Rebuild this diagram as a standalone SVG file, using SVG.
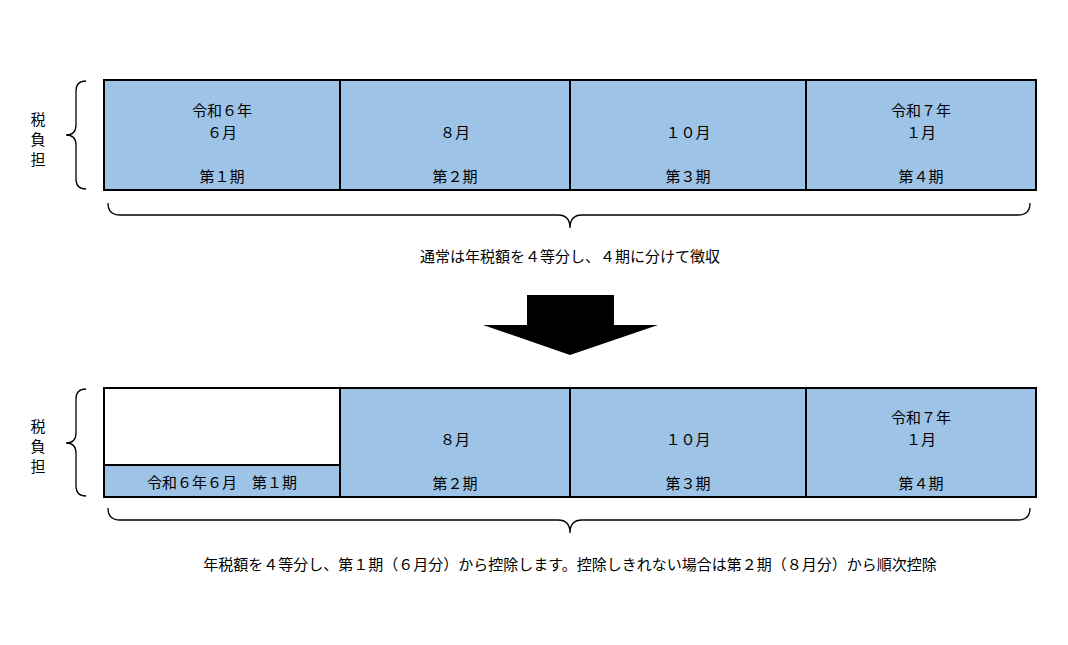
<svg xmlns="http://www.w3.org/2000/svg" width="1068" height="645" viewBox="0 0 1068 645">
<style>
text{font-family:"Noto Sans CJK JP","Noto Sans CJK SC",sans-serif;font-size:15px;fill:#000;text-anchor:middle}
.c{fill:#9DC3E6;stroke:#000;stroke-width:2}
.w{fill:#fff;stroke:#000;stroke-width:2}
.b{fill:none;stroke:#000;stroke-width:1.3}
</style>
<rect width="1068" height="645" fill="#fff"/>
<g id="row1">
<g id="r1c1"><rect class="c" x="104" y="80" width="236" height="110"/><text x="222" y="116">令和６年</text><text x="222" y="138">６月</text><text x="222" y="182">第１期</text></g>
<g id="r1c2"><rect class="c" x="340" y="80" width="230" height="110"/><text x="455" y="138">８月</text><text x="455" y="182">第２期</text></g>
<g id="r1c3"><rect class="c" x="570" y="80" width="236" height="110"/><text x="688" y="138">１０月</text><text x="688" y="182">第３期</text></g>
<g id="r1c4"><rect class="c" x="806" y="80" width="230" height="110"/><text x="921" y="116">令和７年</text><text x="921" y="138">１月</text><text x="921" y="182">第４期</text></g>
</g>
<g id="label1"><text x="38" y="125">税</text><text x="38" y="145">負</text><text x="38" y="165">担</text></g>
<g id="row2">
<g id="r2c1"><rect class="w" x="104" y="388" width="236" height="77"/><rect class="c" x="104" y="465" width="236" height="32"/><text x="222" y="488">令和６年６月　第１期</text></g>
<g id="r2c2"><rect class="c" x="340" y="388" width="230" height="109"/><text x="455" y="445">８月</text><text x="455" y="489">第２期</text></g>
<g id="r2c3"><rect class="c" x="570" y="388" width="236" height="109"/><text x="688" y="445">１０月</text><text x="688" y="489">第３期</text></g>
<g id="r2c4"><rect class="c" x="806" y="388" width="230" height="109"/><text x="921" y="423">令和７年</text><text x="921" y="445">１月</text><text x="921" y="489">第４期</text></g>
</g>
<g id="label2"><text x="38" y="432">税</text><text x="38" y="452">負</text><text x="38" y="472">担</text></g>
<g id="connectors">
<path class="b" d="M86,81 Q76,81 76,91 L76,125 Q76,135 66,135 Q76,135 76,145 L76,179 Q76,189 86,189"/>
<path class="b" d="M86,389 Q76,389 76,399 L76,433 Q76,443 66,443 Q76,443 76,453 L76,486 Q76,496 86,496"/>
<path class="b" d="M108,203 Q108,215 120,215 L558,215 Q570,215 570,228 Q570,215 582,215 L1018,215 Q1030,215 1030,203"/>
<path class="b" d="M108,508 Q108,520 120,520 L558,520 Q570,520 570,533 Q570,520 582,520 L1018,520 Q1030,520 1030,508"/>
<path d="M527,295 H614 V325 H658 L570,355 L483,325 H527 Z" fill="#000"/>
</g>
<text x="570" y="262">通常は年税額を４等分し、４期に分けて徴収</text>
<text x="570" y="570">年税額を４等分し、第１期（６月分）から控除します。控除しきれない場合は第２期（８月分）から順次控除</text>
</svg>
